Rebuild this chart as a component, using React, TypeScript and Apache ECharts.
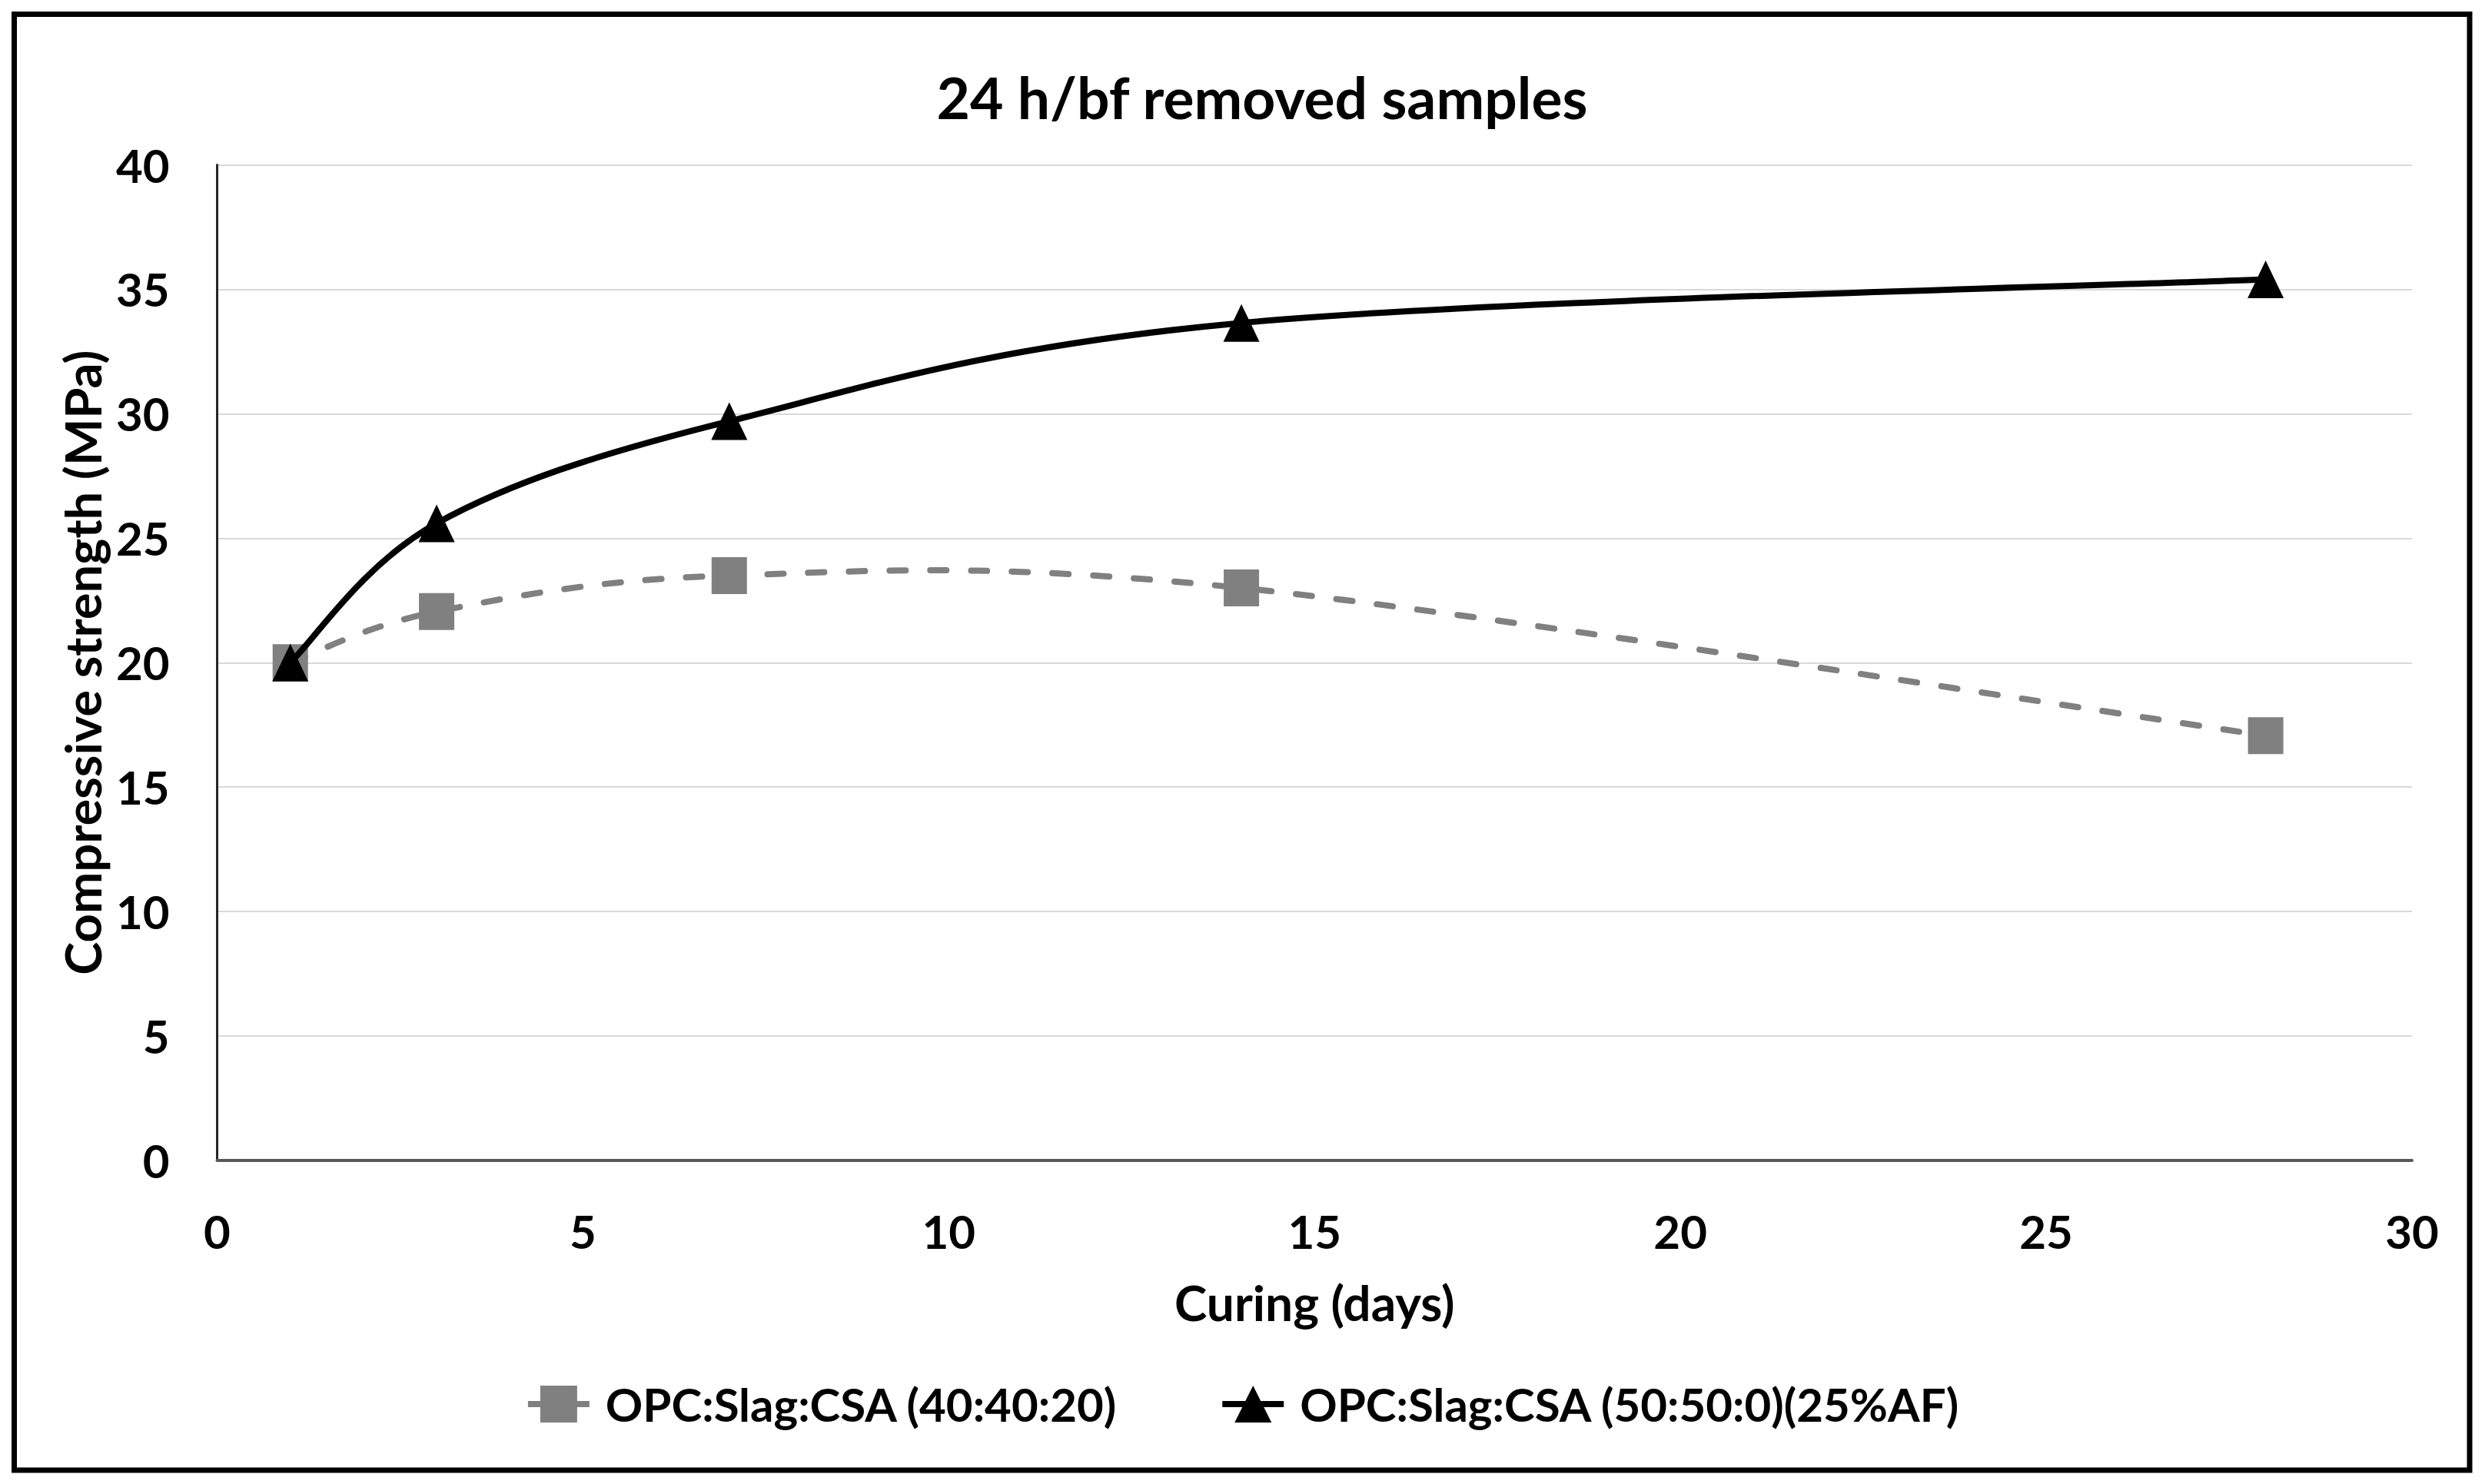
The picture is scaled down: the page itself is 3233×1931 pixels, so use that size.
import React, { useEffect, useRef } from "react";
import * as echarts from "echarts";

const TITLE = "24 h/bf removed samples";
const X_NAME = "Curing (days)";
const Y_NAME = "Compressive strength (MPa)";
const SERIES_NAMES = ["OPC:Slag:CSA (40:40:20)", "OPC:Slag:CSA (50:50:0)(25%AF)"];

const curingDays = [1, 3, 7, 14, 28];
const strengthMix404020 = [20.0, 22.05, 23.5, 23.0, 17.07];
const strengthMix50500AF = [20.0, 25.6, 29.7, 33.65, 35.4];

const X_MIN = 0;
const X_MAX = 30;
const X_STEP = 5;
const Y_MIN = 0;
const Y_MAX = 40;
const Y_STEP = 5;

const FONT = "Lato";
const GRAY = "#808080";
const BLACK = "#000000";

// Excel-style smoothed curve (Catmull-Rom -> cubic Bezier) through pixel points
function smoothPathData(pts: number[][]): string {
  let d = `M${pts[0][0]},${pts[0][1]}`;
  for (let i = 0; i < pts.length - 1; i++) {
    const p0 = pts[i - 1] || pts[i];
    const p1 = pts[i];
    const p2 = pts[i + 1];
    const p3 = pts[i + 2] || pts[i + 1];
    const c1x = p1[0] + (p2[0] - p0[0]) / 6;
    const c1y = p1[1] + (p2[1] - p0[1]) / 6;
    const c2x = p2[0] - (p3[0] - p1[0]) / 6;
    const c2y = p2[1] - (p3[1] - p1[1]) / 6;
    d += ` C${c1x},${c1y} ${c2x},${c2y} ${p2[0]},${p2[1]}`;
  }
  return d;
}

function curveSeries(id: string, xs: number[], ys: number[], style: any, z: number) {
  return {
    id,
    name: id,
    type: "custom",
    coordinateSystem: "cartesian2d",
    data: xs.map((x, i) => [x, ys[i]]),
    encode: { x: 0, y: 1 },
    silent: true,
    z,
    renderItem: (params: any, api: any) => {
      if (params.dataIndexInside !== 0) return null;
      const pts = xs.map((x, i) => api.coord([x, ys[i]]));
      return {
        type: "path",
        shape: { pathData: smoothPathData(pts) },
        style: { fill: "none", ...style },
      };
    },
  };
}

export default function App() {
  const ref = useRef<HTMLDivElement>(null);

  useEffect(() => {
    if (!ref.current) return;
    const chart = echarts.init(ref.current, undefined, { renderer: "svg" });
    const txt = (size: number) => ({
      fontFamily: FONT,
      fontWeight: "bold" as const,
      fontSize: size,
      color: "#000",
    });
    const option = {
      animation: false,
      backgroundColor: "#ffffff",
      title: {
        text: TITLE,
        left: 1642,
        top: 88,
        textAlign: "center",
        padding: 0,
        textStyle: txt(75),
      },
      grid: { left: 282.5, right: 95, top: 214.5, bottom: 421, containLabel: false },
      xAxis: {
        type: "value",
        min: X_MIN,
        max: X_MAX,
        interval: X_STEP,
        name: X_NAME,
        nameLocation: "middle",
        nameGap: 152,
        nameTextStyle: txt(64),
        axisLine: { show: true, onZero: false, lineStyle: { color: "#595959", width: 4 } },
        axisTick: { show: false },
        splitLine: { show: false },
        axisLabel: { margin: 62, ...txt(60) },
      },
      yAxis: {
        type: "value",
        min: Y_MIN,
        max: Y_MAX,
        interval: Y_STEP,
        name: Y_NAME,
        nameLocation: "middle",
        nameGap: 143,
        nameRotate: 90,
        nameTextStyle: txt(65),
        axisLine: { show: true, lineStyle: { color: "#262626", width: 3 } },
        axisTick: { show: false },
        splitLine: { show: true, lineStyle: { color: "#d9d9d9", width: 2 } },
        axisLabel: { margin: 62, ...txt(60) },
      },
      legend: {
        left: "center",
        top: 1792,
        itemWidth: 80,
        itemHeight: 60,
        itemGap: 132,
        lineStyle: { width: 8, type: "solid", opacity: 1 },
        textStyle: { ...txt(60), padding: [0, 0, 0, 16] },
        data: [
          {
            name: SERIES_NAMES[0],
            lineStyle: { color: GRAY, width: 8, type: "solid", opacity: 1 },
          },
          {
            name: SERIES_NAMES[1],
            lineStyle: { color: BLACK, width: 8, type: "solid", opacity: 1 },
          },
        ],
      },
      graphic: [
        {
          type: "rect",
          shape: { x: 18.5, y: 18.5, width: 3194.5, height: 1894.5 },
          style: { fill: "none", stroke: "#000", lineWidth: 7 },
          silent: true,
          z: 100,
        },
      ],
      series: [
        curveSeries(
          "curve-40-40-20",
          curingDays,
          strengthMix404020,
          { stroke: GRAY, lineWidth: 8, lineDash: [21, 32], lineCap: "round" },
          1
        ),
        {
          name: SERIES_NAMES[0],
          type: "line",
          data: curingDays.map((d, i) => [d, strengthMix404020[i]]),
          symbol: "rect",
          symbolSize: [46, 48],
          itemStyle: { color: GRAY },
          lineStyle: { color: GRAY, width: 0, opacity: 0 },
          z: 2,
        },
        curveSeries(
          "curve-50-50-0",
          curingDays,
          strengthMix50500AF,
          { stroke: BLACK, lineWidth: 8, lineCap: "round", lineJoin: "round" },
          3
        ),
        {
          name: SERIES_NAMES[1],
          type: "line",
          data: curingDays.map((d, i) => [d, strengthMix50500AF[i]]),
          symbol: "triangle",
          symbolSize: [47, 49],
          itemStyle: { color: BLACK },
          lineStyle: { color: BLACK, width: 0, opacity: 0 },
          z: 4,
        },
      ],
    };
    chart.setOption(option as any);
    return () => chart.dispose();
  }, []);

  return (
    <div
      ref={ref}
      style={{ position: "absolute", left: 0, top: 0, width: 3233, height: 1931 }}
    />
  );
}
